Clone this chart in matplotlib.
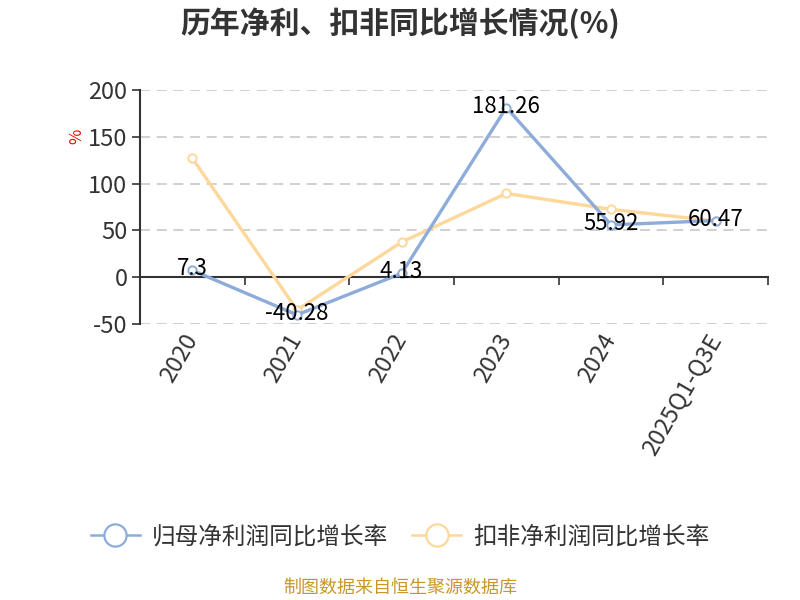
import matplotlib
matplotlib.use('Agg')
import matplotlib.pyplot as plt
from matplotlib.lines import Line2D
import numpy as np

plt.rcParams['font.family'] = ['Noto Sans CJK SC', 'DejaVu Sans']
plt.rcParams['axes.unicode_minus'] = False

categories = ['2020', '2021', '2022', '2023', '2024', '2025Q1-Q3E']
net_profit_growth = [7.3, -40.28, 4.13, 181.26, 55.92, 60.47]
deducted_growth = [127, -35, 37.5, 89.5, 72.5, 60]
series_names = ['归母净利润同比增长率', '扣非净利润同比增长率']
yticks = [-50, 0, 50, 100, 150, 200]

blue = '#8eacd9'
yellow = '#fdd89a'
axis_color = '#333333'

fig = plt.figure(figsize=(8, 6), dpi=100)
ax = fig.add_axes([0.175, 0.46, 0.785, 0.39])

x = np.arange(len(categories))

ax.plot(x, net_profit_growth, color=blue, linewidth=2.4, marker='o', markersize=6,
        markerfacecolor='white', markeredgecolor=blue, markeredgewidth=1.4, zorder=4)
ax.plot(x, deducted_growth, color=yellow, linewidth=2.4, marker='o', markersize=6,
        markerfacecolor='white', markeredgecolor=yellow, markeredgewidth=1.4, zorder=3)

for xi, v in zip(x, net_profit_growth):
    ax.annotate(f'{v:g}', (xi, v), xytext=(0, 1), textcoords='offset points',
                ha='center', va='center', fontsize=16, color='black', zorder=6)

ax.set_xlim(-0.5, len(categories) - 0.5)
ax.set_ylim(-50, 200)
ax.set_yticks(yticks)
ax.tick_params(axis='y', labelsize=17, colors=axis_color, length=6, width=1.2,
               labelcolor='#333333', pad=3)
for t in yticks:
    ax.axhline(t, color='#c8c8c8', linewidth=1.2, linestyle=(0, (6, 4)), zorder=1)

ax.spines['top'].set_visible(False)
ax.spines['right'].set_visible(False)
ax.spines['left'].set_color(axis_color)
ax.spines['left'].set_linewidth(1.5)
ax.spines['bottom'].set_position(('data', 0))
ax.spines['bottom'].set_color(axis_color)
ax.spines['bottom'].set_linewidth(1.5)
ax.spines['bottom'].set_zorder(2)

ax.set_xticks(x)
ax.set_xticks(np.arange(len(categories) + 1) - 0.5, minor=True)
ax.set_xticklabels(categories, rotation=60, ha='right', va='center',
                   rotation_mode='anchor', fontsize=17, color='#333333')
ax.tick_params(axis='x', which='major', length=0, pad=42)
ax.tick_params(axis='x', which='minor', length=6, width=1.2, color=axis_color)

ax.text(-0.1, 0.8, '%', transform=ax.transAxes, rotation=90, color='red',
        fontsize=12, ha='center', va='center')

fig.text(0.5, 0.962, '历年净利、扣非同比增长情况(%)', ha='center', va='center',
         fontsize=21.5, fontweight='bold', color='#333333')

handles = [Line2D([], [], color=c, linewidth=1.8, marker='o', markersize=16,
                  markerfacecolor='white', markeredgecolor=c, markeredgewidth=1.6)
           for c in (blue, yellow)]
fig.legend(handles, series_names, loc='center', bbox_to_anchor=(0.5, 0.105), ncol=2,
           frameon=False, fontsize=17, handlelength=2.1, columnspacing=1.0,
           handletextpad=0.5, labelcolor='#333333')

fig.text(0.5, 0.02, '制图数据来自恒生聚源数据库', ha='center', va='center',
         fontsize=13, color='#c9962a')

fig.savefig('out.png', dpi=100)
